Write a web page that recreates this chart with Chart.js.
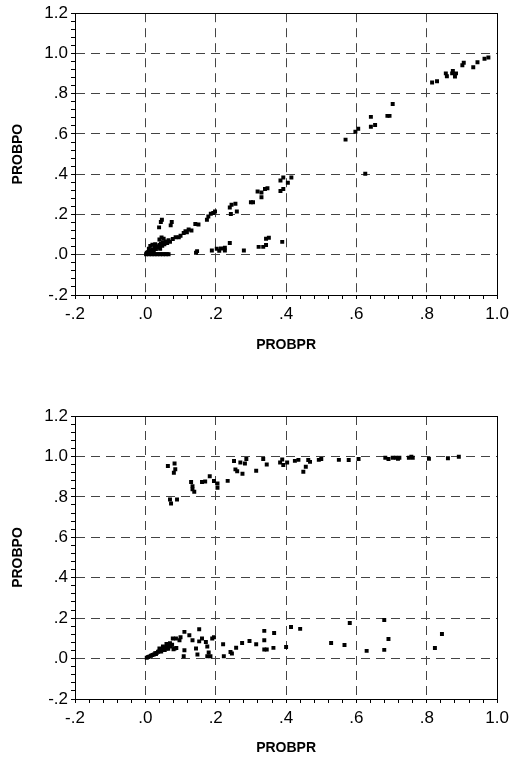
<!DOCTYPE html>
<html>
<head>
<meta charset="utf-8">
<script src="https://cdn.jsdelivr.net/npm/chart.js@4/dist/chart.umd.min.js"></script>
<style>
  html, body { margin: 0; padding: 0; background: #fff; }
  .panel { position: absolute; left: 0; width: 514px; }
  #panelTop { top: 0; height: 380px; }
  #panelBottom { top: 380px; height: 379px; }
</style>
</head>
<body>
<div class="panel" id="panelTop"><canvas id="chartTop" width="514" height="380"></canvas></div>
<div class="panel" id="panelBottom"><canvas id="chartBottom" width="514" height="379"></canvas></div>
<script>
// [PROBPR, PROBPO] pairs, upper plot
const topOrigin = [
  [0.002,0.002],[0.006,0.003],[0.010,0.002],[0.014,0.003],[0.018,0.002],[0.022,0.003],
  [0.026,0.002],[0.030,0.003],[0.034,0.002],[0.038,0.003],[0.042,0.002],[0.046,0.003],
  [0.050,0.002],[0.054,0.003],[0.058,0.002],[0.062,0.003],[0.066,0.002],
  [0.004,0.010],[0.008,0.014],[0.012,0.020],[0.016,0.012],[0.020,0.026],[0.024,0.018],
  [0.026,0.034],[0.030,0.028],[0.032,0.042],[0.036,0.036],[0.040,0.048],[0.042,0.030],
  [0.044,0.056],[0.048,0.044],[0.050,0.062],[0.054,0.052],[0.058,0.066],[0.062,0.058],
  [0.066,0.072],[0.070,0.064],[0.040,0.076],[0.046,0.086],[0.052,0.080],[0.014,0.044],
  [0.020,0.050],[0.028,0.052],[0.010,0.030]
];
const topDiagonal = [
  [0.078,0.078],[0.086,0.087],[0.095,0.087],[0.100,0.094],[0.109,0.108],[0.114,0.117],
  [0.118,0.112],[0.123,0.125],[0.131,0.120],[0.142,0.153],[0.151,0.150],[0.175,0.174],
  [0.179,0.190],[0.186,0.204],[0.193,0.207],[0.198,0.215],[0.240,0.235],[0.245,0.248],
  [0.256,0.253],[0.243,0.202],[0.260,0.215],[0.300,0.261],[0.306,0.261],[0.319,0.314],
  [0.330,0.309],[0.330,0.286],[0.340,0.327],[0.347,0.330],[0.384,0.369],[0.392,0.384],
  [0.405,0.358],[0.415,0.384],[0.384,0.317],[0.392,0.327]
];
const topHigh = [
  [0.569,0.572],[0.597,0.611],[0.605,0.626],[0.641,0.685],[0.641,0.636],[0.653,0.645],
  [0.688,0.690],[0.694,0.690],[0.703,0.749],[0.815,0.856],[0.829,0.862],[0.854,0.901],
  [0.857,0.887],[0.874,0.913],[0.872,0.901],[0.880,0.885],[0.883,0.901],[0.901,0.941],
  [0.905,0.954],[0.932,0.931],[0.944,0.956],[0.964,0.974],[0.975,0.980]
];
const topStray = [
  [0.039,0.136],[0.044,0.163],[0.047,0.174],[0.072,0.146],[0.075,0.163],[0.625,0.402]
];
const topLowBand = [
  [0.144,0.010],[0.147,0.018],[0.189,0.021],[0.203,0.030],[0.210,0.020],[0.215,0.031],
  [0.226,0.035],[0.226,0.021],[0.240,0.058],[0.280,0.021],[0.322,0.039],[0.335,0.039],
  [0.343,0.048],[0.343,0.079],[0.351,0.084],[0.389,0.064]
];

// [PROBPR, PROBPO] pairs, lower plot
const bottomHigh = [
  [0.064,0.953],[0.083,0.965],[0.085,0.937],[0.081,0.919],[0.070,0.787],[0.073,0.767],
  [0.090,0.787],[0.130,0.874],[0.134,0.853],[0.134,0.837],[0.139,0.825],[0.161,0.873],
  [0.170,0.876],[0.183,0.902],[0.195,0.878],[0.205,0.866],[0.205,0.845],[0.234,0.879],
  [0.252,0.977],[0.256,0.936],[0.261,0.927],[0.270,0.970],[0.283,0.965],[0.287,0.987],
  [0.276,0.914],[0.315,0.929],[0.335,0.987],[0.345,0.960],[0.383,0.970],[0.389,0.985],
  [0.392,0.958],[0.403,0.970],[0.425,0.978],[0.435,0.983],[0.449,0.924],[0.456,0.949],
  [0.463,0.982],[0.468,0.973],[0.493,0.983],[0.500,0.987],[0.550,0.983],[0.578,0.982],
  [0.606,0.987],[0.682,0.993],[0.691,0.987],[0.703,0.993],[0.712,0.993],[0.718,0.988],
  [0.722,0.993],[0.749,0.993],[0.756,0.998],[0.760,0.993],[0.806,0.988],[0.860,0.991],
  [0.891,0.998]
];
const bottomDiagonal = [
  [0.004,0.004],[0.008,0.008],[0.012,0.010],[0.016,0.014],[0.020,0.018],[0.024,0.020],
  [0.028,0.026],[0.032,0.028],[0.036,0.034],[0.040,0.036],[0.044,0.040],[0.048,0.044],
  [0.052,0.046],[0.056,0.052],[0.060,0.050],[0.064,0.058],[0.068,0.062],[0.072,0.060],
  [0.076,0.068],[0.030,0.022],[0.045,0.035],[0.055,0.042],[0.065,0.048],[0.080,0.046],
  [0.088,0.052],[0.040,0.050],[0.050,0.060],[0.060,0.072],[0.070,0.076]
];
const bottomLow = [
  [0.078,0.099],[0.087,0.099],[0.097,0.091],[0.100,0.105],[0.083,0.050],[0.111,0.132],
  [0.125,0.115],[0.153,0.145],[0.161,0.099],[0.153,0.085],[0.134,0.091],[0.111,0.041],
  [0.109,0.011],[0.144,0.050],[0.148,0.020],[0.172,0.082],[0.176,0.060],[0.180,0.030],
  [0.176,0.011],[0.185,0.011],[0.190,0.099],[0.195,0.105],[0.221,0.071],[0.223,0.011],
  [0.242,0.033],[0.246,0.025],[0.258,0.054],[0.275,0.077],[0.296,0.087],[0.315,0.071],
  [0.338,0.137],[0.338,0.091],[0.338,0.045],[0.345,0.045],[0.366,0.127],[0.364,0.053],
  [0.400,0.057],[0.414,0.156],[0.440,0.147],[0.528,0.077],[0.566,0.067],[0.581,0.176],
  [0.629,0.038],[0.679,0.191],[0.679,0.043],[0.691,0.097],[0.823,0.052],[0.843,0.122]
];

const xRange = [-0.2, 1.0];
const yRange = [-0.2, 1.2];
const minorStep = 0.04;
const majorStep = 0.2;

Chart.defaults.font.family = '"Liberation Sans", Arial, sans-serif';
Chart.defaults.color = '#000';

function isMajor(v) {
  const r = v / majorStep;
  return Math.abs(r - Math.round(r)) < 1e-6;
}

// SAS style: ".2", "-.2", "1.0"
function fmtTick(v) {
  if (!isMajor(v)) return '';
  return v.toFixed(1).replace(/^(-?)0\./, '$1.');
}

function toPoints(...groups) {
  return groups.flat().map(p => ({x: p[0], y: p[1]}));
}

// box round the plot area
const frame = {
  id: 'frame',
  beforeDatasetsDraw(chart) {
    const {ctx, chartArea: a} = chart;
    ctx.save();
    ctx.strokeStyle = '#000';
    ctx.lineWidth = 1;
    ctx.strokeRect(Math.round(a.left) + 0.5, Math.round(a.top) + 0.5,
      Math.round(a.right - a.left), Math.round(a.bottom - a.top));
    ctx.restore();
  }
};

function axis(range, title, fitSize, titlePad, horizontal) {
  return {
    type: 'linear',
    min: range[0],
    max: range[1],
    afterFit: s => {
      if (horizontal) s.height = fitSize; else s.width = fitSize;
    },
    ticks: {
      stepSize: minorStep,
      maxTicksLimit: 100,
      autoSkip: false,
      maxRotation: 0,
      padding: horizontal ? 5 : 3,
      font: {size: 17},
      color: '#000',
      callback: v => fmtTick(v)
    },
    grid: {
      color: c => (isMajor(c.tick.value) && c.tick.value > range[0] + 1e-6 && c.tick.value < range[1] - 1e-6)
        ? '#444' : 'rgba(0,0,0,0)',
      tickColor: '#000',
      tickLength: 4,
      lineWidth: 1
    },
    border: {color: '#000', width: 1, dash: [9, 6]},
    title: {
      display: true,
      text: title,
      color: '#000',
      font: {size: 14, weight: 'bold'},
      padding: titlePad
    }
  };
}

function makeChart(id, data, pad, xFit, xTitlePad) {
  return new Chart(document.getElementById(id), {
    type: 'scatter',
    data: {
      datasets: [{
        data: data,
        pointStyle: 'rect',
        pointRadius: 2.8,
        pointBorderWidth: 0,
        backgroundColor: '#000',
        borderColor: '#000'
      }]
    },
    options: {
      responsive: false,
      animation: false,
      events: [],
      layout: {padding: pad},
      plugins: {legend: {display: false}, tooltip: {enabled: false}},
      scales: {
        x: axis(xRange, 'PROBPR', xFit, xTitlePad, true),
        y: axis(yRange, 'PROBPO', 75, {top: 10, bottom: 0}, false)
      }
    },
    plugins: [frame]
  });
}

makeChart('chartTop', toPoints(topOrigin, topDiagonal, topHigh, topStray, topLowBand),
  {top: 10, right: 11, bottom: 25, left: 0}, 60, {top: 0, bottom: 1});
makeChart('chartBottom', toPoints(bottomHigh, bottomDiagonal, bottomLow),
  {top: 36, right: 13, bottom: 0, left: 0}, 60, {top: 0, bottom: 2});
</script>
</body>
</html>
